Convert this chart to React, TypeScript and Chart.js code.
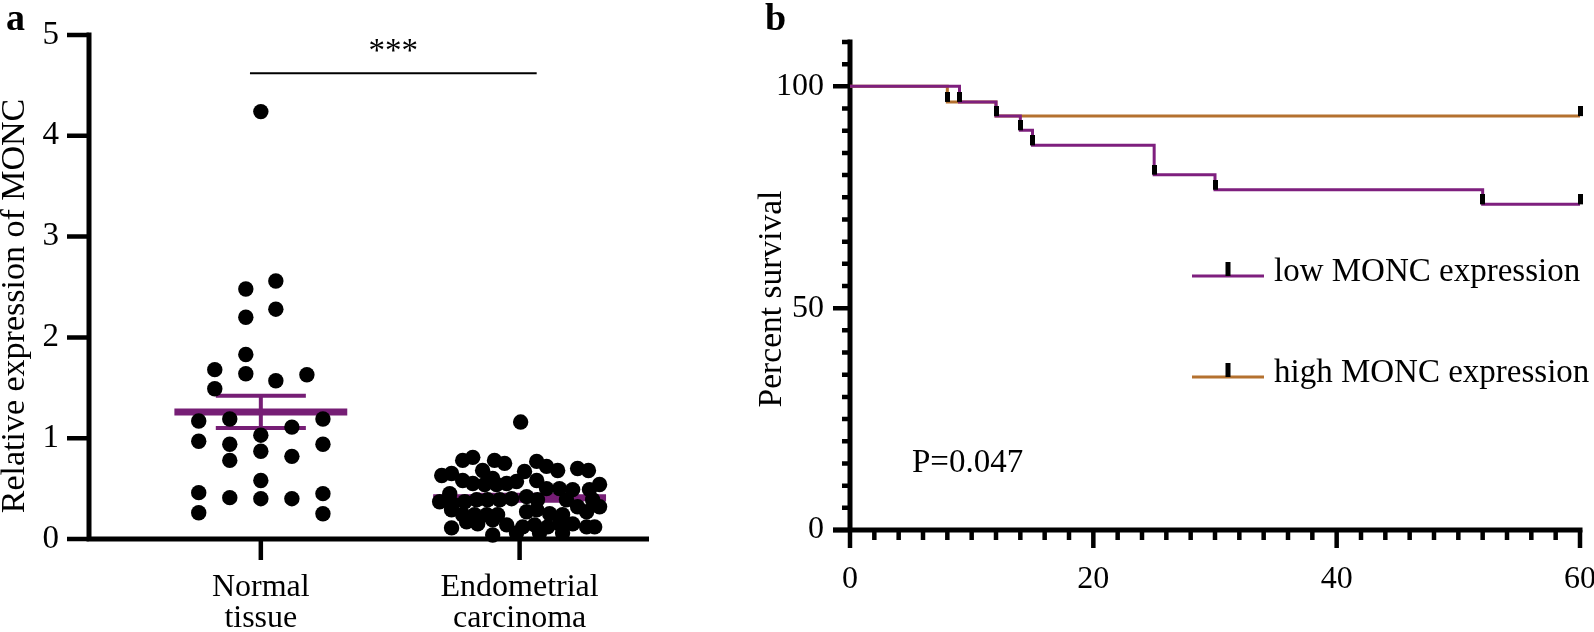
import React, { useEffect, useRef } from 'react';
import { Chart, registerables } from 'chart.js';

Chart.register(...registerables);

const SERIF = "'Liberation Serif', 'Times New Roman', Times, serif";

// ---------------- Panel a : data ----------------
const groupLabels: string[][] = [['Normal', 'tissue'], ['Endometrial', 'carcinoma']];
const groupPositions = [1, 2];
const yTicksA = [0, 1, 2, 3, 4, 5];

const normalValues = [4.24, 2.56, 2.48, 2.28, 2.2, 1.83, 1.68, 1.64, 1.57, 1.63, 1.49, 1.17, 1.19, 1.19, 1.11, 1.03, 0.97, 0.94, 0.94, 0.87, 0.82, 0.78, 0.58, 0.46, 0.45, 0.41, 0.4, 0.4, 0.26, 0.25];
const normalJitter = [0, 0.058, -0.058, 0.058, -0.058, -0.058, -0.178, -0.058, 0.058, 0.178, -0.178, -0.24, -0.12, 0.24, 0.12, 0, -0.24, -0.12, 0.24, 0, 0.12, -0.12, 0, -0.24, 0.24, -0.12, 0, 0.12, -0.24, 0.24];

const carcinomaValues = [
  1.16,
  0.78, 0.81, 0.78, 0.75, 0.77, 0.72, 0.68, 0.7, 0.68, 0.63, 0.65, 0.68, 0.6, 0.67, 0.54, 0.58,
  0.58, 0.55, 0.54, 0.54, 0.55, 0.57, 0.5, 0.5, 0.49, 0.49, 0.45,
  0.37, 0.35, 0.37, 0.39, 0.39, 0.39, 0.4, 0.42, 0.39, 0.39, 0.32, 0.39,
  0.29, 0.24, 0.24, 0.24, 0.24, 0.27, 0.29, 0.25, 0.24, 0.27, 0.32,
  0.11, 0.17, 0.15, 0.19, 0.14, 0.12, 0.14, 0.12, 0.15, 0.15, 0.12,
  0.04, 0.06, 0.06, 0.06, 0.12,
];
const carcinomaJitter = [
  0.004,
  -0.22, -0.181, -0.097, -0.058, 0.066, 0.104, 0.147, 0.224, 0.266, -0.301, -0.263, -0.143, -0.104, 0.019, 0.309, 0.066,
  -0.22, -0.181, -0.135, -0.089, -0.05, -0.012, 0.104, 0.154, 0.205, 0.27, -0.27,
  -0.309, -0.259, -0.212, -0.166, -0.124, -0.077, -0.031, 0.027, 0.069, 0.181, 0.224, 0.282,
  -0.263, -0.22, -0.174, -0.127, -0.085, 0.027, 0.066, 0.116, 0.166, 0.259, 0.309,
  -0.263, -0.205, -0.162, -0.104, -0.05, 0.012, 0.058, 0.108, 0.154, 0.205, 0.259,
  -0.104, -0.012, 0.077, 0.166, 0.29,
];

const groupMeans = [1.26, 0.41];
const groupSems = [0.16, 0.03];
const sigSpan = [0.958, 2.066];
const sigLevel = 4.62;
const sigText = '***';
const sigTextLevel = 4.74;
const yTitleA = 'Relative expression of MONC';

// ---------------- Panel b : data ----------------
const lowTimes = [0, 9, 12, 14, 15, 25, 30, 52, 60];
const lowSurvival = [100, 96.5, 93.3, 90.1, 86.7, 80.1, 76.7, 73.4, 73.4];
const highTimes = [0, 8, 12, 60];
const highSurvival = [100, 96.5, 93.3, 93.3];
const lowCensorTimes = [9, 12, 14, 15, 25, 30, 52, 60];
const highCensorTimes = [8, 60];
const yMajorB = [0, 50, 100];
const xMajorB = [0, 20, 40, 60];
const legendLabels = ['low MONC expression', 'high MONC expression'];
const pValueText = 'P=0.047';
const yTitleB = 'Percent survival';

// ---------------- styles ----------------
const PURPLE_A = '#761E75';
const PURPLE_B = '#7E1F7E';
const ORANGE = '#B4712F';

const MEAN_HALF = 0.334;
const CAP_HALF = 0.174;

function survivalAt(times: number[], vals: number[], t: number) {
  let v = vals[0];
  for (let i = 0; i < times.length; i++) if (times[i] <= t) v = vals[i];
  return v;
}

function noScalePadding(s: any) {
  s.paddingTop = 0;
  s.paddingBottom = 0;
  s.paddingLeft = 0;
  s.paddingRight = 0;
}

const axesA = {
  id: 'axesA',
  beforeDatasetsDraw(chart: any) {
    const { ctx, chartArea } = chart;
    const x = chart.scales.x;
    const y = chart.scales.y;
    const left = chartArea.left;
    const y0 = y.getPixelForValue(0);
    ctx.save();
    ctx.strokeStyle = '#000';
    ctx.lineWidth = 5;
    ctx.beginPath();
    ctx.moveTo(left, y.getPixelForValue(yTicksA[yTicksA.length - 1]) - 2.5);
    ctx.lineTo(left, y0 + 2.5);
    ctx.moveTo(left, y0);
    ctx.lineTo(x.getPixelForValue(x.max), y0);
    ctx.stroke();
    ctx.lineWidth = 4.5;
    ctx.beginPath();
    yTicksA.forEach((v) => {
      const p = y.getPixelForValue(v);
      ctx.moveTo(left - 22, p);
      ctx.lineTo(left, p);
    });
    groupPositions.forEach((v) => {
      const p = x.getPixelForValue(v);
      ctx.moveTo(p, y0);
      ctx.lineTo(p, y0 + 21);
    });
    ctx.stroke();
    ctx.restore();
  },
  afterDraw(chart: any) {
    const { ctx } = chart;
    const x = chart.scales.x;
    const y = chart.scales.y;
    ctx.save();
    ctx.fillStyle = '#000';
    ctx.font = `bold 38px ${SERIF}`;
    ctx.textAlign = 'left';
    ctx.textBaseline = 'alphabetic';
    ctx.fillText('a', 6, 30);
    ctx.font = `33px ${SERIF}`;
    ctx.textAlign = 'center';
    ctx.fillText(sigText, x.getPixelForValue((sigSpan[0] + sigSpan[1]) / 2), y.getPixelForValue(sigTextLevel));
    ctx.translate(15, 306);
    ctx.rotate(-Math.PI / 2);
    ctx.textBaseline = 'middle';
    ctx.font = `34px ${SERIF}`;
    ctx.fillText(yTitleA, 0, 0);
    ctx.restore();
  },
};

const axesB = {
  id: 'axesB',
  beforeDatasetsDraw(chart: any) {
    const { ctx, chartArea } = chart;
    const x = chart.scales.x;
    const y = chart.scales.y;
    const left = chartArea.left;
    const y0 = y.getPixelForValue(0);
    ctx.save();
    ctx.strokeStyle = '#000';
    ctx.lineWidth = 5;
    ctx.beginPath();
    ctx.moveTo(left, y.getPixelForValue(y.max) - 2.5);
    ctx.lineTo(left, y0);
    ctx.moveTo(left - 17, y0);
    ctx.lineTo(x.getPixelForValue(x.max) + 2.5, y0);
    ctx.stroke();
    ctx.lineWidth = 4.5;
    ctx.beginPath();
    for (let v = y.min; v <= y.max + 0.001; v += 5) {
      const p = y.getPixelForValue(v);
      const len = yMajorB.includes(v) ? 17 : 8;
      ctx.moveTo(left - len, p);
      ctx.lineTo(left, p);
    }
    for (let v = x.min; v <= x.max + 0.001; v += 2) {
      const p = x.getPixelForValue(v);
      const len = xMajorB.includes(v) ? 18 : 10;
      ctx.moveTo(p, y0);
      ctx.lineTo(p, y0 + len);
    }
    ctx.stroke();
    ctx.restore();
  },
  afterDraw(chart: any) {
    const { ctx } = chart;
    ctx.save();
    ctx.fillStyle = '#000';
    ctx.font = `bold 38px ${SERIF}`;
    ctx.textAlign = 'left';
    ctx.textBaseline = 'alphabetic';
    ctx.fillText('b', 65, 30);
    const rows = [
      { label: legendLabels[0], color: PURPLE_B, y: 276 },
      { label: legendLabels[1], color: ORANGE, y: 377 },
    ];
    ctx.font = `33px ${SERIF}`;
    rows.forEach((r) => {
      ctx.strokeStyle = r.color;
      ctx.lineWidth = 3;
      ctx.beginPath();
      ctx.moveTo(492, r.y);
      ctx.lineTo(564, r.y);
      ctx.stroke();
      ctx.fillStyle = '#000';
      ctx.fillRect(525.5, r.y - 14, 5, 14);
      ctx.fillText(r.label, 574, r.y + 5);
    });
    ctx.fillText(pValueText, 212, 472);
    ctx.translate(72, 299);
    ctx.rotate(-Math.PI / 2);
    ctx.textAlign = 'center';
    ctx.textBaseline = 'middle';
    ctx.font = `33.5px ${SERIF}`;
    ctx.fillText(yTitleB, 0, 0);
    ctx.restore();
  },
};

function buildA(canvas: HTMLCanvasElement) {
  const normalPts = normalValues.map((v, i) => ({ x: groupPositions[0] + normalJitter[i], y: v }));
  const carcPts = carcinomaValues.map((v, i) => ({ x: groupPositions[1] + carcinomaJitter[i], y: v }));
  const meanPts: any[] = [];
  const errPts: any[] = [];
  groupPositions.forEach((g, i) => {
    const m = groupMeans[i];
    const hi = m + groupSems[i];
    const lo = m - groupSems[i];
    meanPts.push({ x: g - MEAN_HALF, y: m }, { x: g + MEAN_HALF, y: m }, { x: g, y: null });
    errPts.push(
      { x: g - CAP_HALF, y: hi }, { x: g + CAP_HALF, y: hi }, { x: g, y: null },
      { x: g - CAP_HALF, y: lo }, { x: g + CAP_HALF, y: lo }, { x: g, y: null },
      { x: g, y: lo }, { x: g, y: hi }, { x: g, y: null },
    );
  });
  const sigPts = [{ x: sigSpan[0], y: sigLevel }, { x: sigSpan[1], y: sigLevel }];

  return new Chart(canvas, {
    type: 'scatter',
    data: {
      datasets: [
        { type: 'scatter', data: normalPts, pointRadius: 7.7, pointBackgroundColor: '#000', pointBorderWidth: 0, order: 0, clip: false },
        { type: 'scatter', data: carcPts, pointRadius: 7.7, pointBackgroundColor: '#000', pointBorderWidth: 0, order: 0, clip: false },
        { type: 'line', data: meanPts, borderColor: PURPLE_A, borderWidth: 7, pointRadius: 0, spanGaps: false, order: 2, clip: false },
        { type: 'line', data: errPts, borderColor: PURPLE_A, borderWidth: 4, pointRadius: 0, spanGaps: false, order: 1, clip: false },
        { type: 'line', data: sigPts, borderColor: '#000', borderWidth: 2, pointRadius: 0, order: 1, clip: false },
      ],
    } as any,
    options: {
      responsive: true,
      maintainAspectRatio: false,
      animation: false,
      events: [],
      layout: { padding: { top: 35, right: 51, left: 0, bottom: 0 }, autoPadding: false },
      plugins: { legend: { display: false }, tooltip: { enabled: false } },
      scales: {
        x: {
          type: 'linear',
          min: 0.336,
          max: 2.5,
          grid: { display: false, drawTicks: false },
          border: { display: false },
          afterBuildTicks: (s: any) => { s.ticks = groupPositions.map((v) => ({ value: v })); },
          afterFit: (s: any) => { s.height = 93; noScalePadding(s); },
          ticks: {
            autoSkip: false,
            maxRotation: 0,
            minRotation: 0,
            padding: 33,
            color: '#000',
            font: { family: SERIF, size: 32, lineHeight: 0.97 },
            callback: (_v: any, i: number) => groupLabels[i],
          },
        },
        y: {
          type: 'linear',
          min: 0,
          max: 5,
          grid: { display: false, drawTicks: false },
          border: { display: false },
          afterBuildTicks: (s: any) => { s.ticks = yTicksA.map((v) => ({ value: v })); },
          afterFit: (s: any) => { s.width = 89; noScalePadding(s); },
          ticks: { padding: 30, color: '#000', font: { family: SERIF, size: 33 } },
        },
      },
    } as any,
    plugins: [axesA],
  });
}

function buildB(canvas: HTMLCanvasElement) {
  const censorImg = document.createElement('canvas');
  censorImg.width = 5;
  censorImg.height = 20;
  const cctx = censorImg.getContext('2d')!;
  cctx.fillStyle = '#000';
  cctx.fillRect(0, 0, 5, 10);

  const lowPts = lowTimes.map((t, i) => ({ x: t, y: lowSurvival[i] }));
  const highPts = highTimes.map((t, i) => ({ x: t, y: highSurvival[i] }));
  const censorPts = [
    ...lowCensorTimes.map((t) => ({ x: t, y: survivalAt(lowTimes, lowSurvival, t) })),
    ...highCensorTimes.map((t) => ({ x: t, y: survivalAt(highTimes, highSurvival, t) })),
  ];

  return new Chart(canvas, {
    type: 'scatter',
    data: {
      datasets: [
        { type: 'scatter', data: censorPts, pointStyle: censorImg, pointRadius: 5, order: 0, clip: false },
        { type: 'line', data: lowPts, stepped: true, borderColor: PURPLE_B, borderWidth: 3, pointRadius: 0, order: 1, clip: false },
        { type: 'line', data: highPts, stepped: true, borderColor: ORANGE, borderWidth: 3, pointRadius: 0, order: 2, clip: false },
      ],
    } as any,
    options: {
      responsive: true,
      maintainAspectRatio: false,
      animation: false,
      events: [],
      layout: { padding: { top: 42, right: 14, left: 0, bottom: 0 }, autoPadding: false },
      plugins: { legend: { display: false }, tooltip: { enabled: false } },
      scales: {
        x: {
          type: 'linear',
          min: 0,
          max: 60,
          grid: { display: false, drawTicks: false },
          border: { display: false },
          afterBuildTicks: (s: any) => { s.ticks = xMajorB.map((v) => ({ value: v })); },
          afterFit: (s: any) => { s.height = 102; noScalePadding(s); },
          ticks: { autoSkip: false, maxRotation: 0, padding: 30, color: '#000', font: { family: SERIF, size: 32 } },
        },
        y: {
          type: 'linear',
          min: 0,
          max: 110,
          grid: { display: false, drawTicks: false },
          border: { display: false },
          afterBuildTicks: (s: any) => { s.ticks = yMajorB.map((v) => ({ value: v })); },
          afterFit: (s: any) => { s.width = 150; noScalePadding(s); },
          ticks: { padding: 26, color: '#000', font: { family: SERIF, size: 32 } },
        },
      },
    } as any,
    plugins: [axesB],
  });
}

export default function App() {
  const refA = useRef<HTMLCanvasElement>(null);
  const refB = useRef<HTMLCanvasElement>(null);

  useEffect(() => {
    const a = buildA(refA.current!);
    const b = buildB(refB.current!);
    return () => {
      a.destroy();
      b.destroy();
    };
  }, []);

  return (
    <div style={{ position: 'fixed', left: 0, top: 0, width: 1594, height: 632, background: '#fff', overflow: 'hidden' }}>
      <div style={{ position: 'absolute', left: 0, top: 0, width: 700, height: 632 }}>
        <canvas ref={refA} />
      </div>
      <div style={{ position: 'absolute', left: 700, top: 0, width: 894, height: 632 }}>
        <canvas ref={refB} />
      </div>
    </div>
  );
}
